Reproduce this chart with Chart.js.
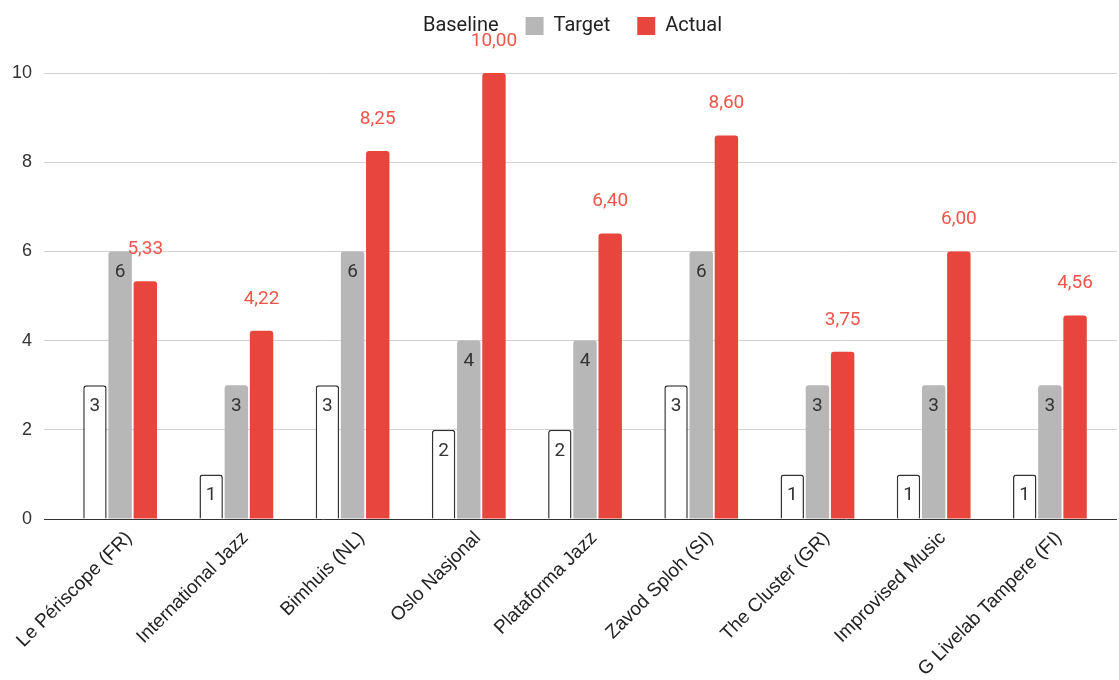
<!DOCTYPE html>
<html>
<head>
<meta charset="utf-8">
<script src="https://cdn.jsdelivr.net/npm/chart.js@4.4.0/dist/chart.umd.min.js"></script>
<style>
html, body { margin: 0; padding: 0; background: #fff; }
#wrap { width: 1119px; height: 680px; }
</style>
</head>
<body>
<div id="wrap"><canvas id="chart-venues"></canvas></div>
<script>
var venues = ["Le Périscope (FR)", "International Jazz", "Bimhuis (NL)", "Oslo Nasjonal",
              "Plataforma Jazz", "Zavod Sploh (SI)", "The Cluster (GR)", "Improvised Music",
              "G Livelab Tampere (FI)"];
var baseline = [3, 1, 3, 2, 2, 3, 1, 1, 1];
var target   = [6, 3, 6, 4, 4, 6, 3, 3, 3];
var actual   = [5.33, 4.22, 8.25, 10.00, 6.40, 8.60, 3.75, 6.00, 4.56];
var yMin = 0, yMax = 10, yStep = 2;

var axisFont = "'Liberation Sans', Arial, sans-serif";
var labelFont = "Roboto, 'Liberation Sans', sans-serif";

function gridColor(ctx) {
  return ctx.tick && ctx.tick.value === 0 ? '#333333' : '#d3d3d3';
}

// numbers on the bars: inside the top for baseline/target, above for actual
var valueLabels = {
  id: 'valueLabels',
  afterDatasetsDraw: function(chart) {
    var ctx = chart.ctx;
    chart.data.datasets.forEach(function(ds, i) {
      var meta = chart.getDatasetMeta(i);
      meta.data.forEach(function(bar, j) {
        var v = ds.data[j];
        ctx.save();
        ctx.textAlign = 'center';
        ctx.textBaseline = 'middle';
        ctx.font = '19px ' + labelFont;
        if (i == 2) {
          ctx.fillStyle = '#f0554a';
          ctx.fillText(v.toFixed(2).replace('.', ','), bar.x, bar.y - 32);
        } else {
          ctx.fillStyle = '#333333';
          ctx.fillText(String(v), bar.x, bar.y + 21);
        }
        ctx.restore();
      });
    });
  }
};

// leave more room under the legend
var legendGap = {
  id: 'legendGap',
  beforeInit: function(chart) {
    var fit = chart.legend.fit;
    chart.legend.fit = function() {
      fit.call(this);
      this.height += 27;
    };
  }
};

var chart;
function initChart() {
  var ctx = document.getElementById("chart-venues").getContext("2d");
  chart = new Chart(ctx, {
    type: "bar",
    data: {
      labels: venues,
      datasets: [{
        label: "Baseline",
        data: baseline,
        backgroundColor: '#ffffff',
        borderColor: '#333333',
        borderWidth: 1.5,
        borderRadius: { topLeft: 3, topRight: 3 },
        borderSkipped: 'bottom'
      }, {
        label: "Target",
        data: target,
        backgroundColor: '#b7b7b7',
        borderRadius: { topLeft: 3, topRight: 3 },
        borderSkipped: 'bottom'
      }, {
        label: "Actual",
        data: actual,
        backgroundColor: '#e8453c',
        borderRadius: { topLeft: 3, topRight: 3 },
        borderSkipped: 'bottom'
      }]
    },
    options: {
      responsive: true,
      maintainAspectRatio: false,
      animation: false,
      barPercentage: 0.93,
      categoryPercentage: 0.65,
      layout: { padding: { left: 0, right: 2, top: -11, bottom: 0 } },
      plugins: {
        tooltip: { enabled: false },
        legend: {
          position: 'top',
          labels: {
            boxWidth: 18,
            boxHeight: 18,
            padding: 27,
            color: '#222222',
            font: { family: labelFont, size: 20 },
            generateLabels: function(c) {
              var items = Chart.defaults.plugins.legend.labels.generateLabels(c);
              items[0].fillStyle = 'rgba(0,0,0,0)';
              items[0].strokeStyle = 'rgba(0,0,0,0)';
              items[0].lineWidth = 0;
              return items;
            }
          }
        }
      },
      scales: {
        x: {
          grid: { display: false },
          border: { display: false },
          afterFit: function(scale) { scale.height = 161; },
          ticks: {
            autoSkip: false,
            minRotation: 45,
            maxRotation: 45,
            labelOffset: 9,
            padding: 0,
            color: '#222222',
            font: { family: axisFont, size: 19 }
          }
        },
        y: {
          min: yMin,
          max: yMax,
          border: { display: false },
          grid: { color: gridColor, tickLength: 18 },
          ticks: {
            stepSize: yStep,
            padding: 12,
            color: '#333333',
            font: { family: axisFont, size: 18 }
          }
        },
        yRight: {
          position: 'right',
          min: yMin,
          max: yMax,
          border: { display: false },
          grid: { color: gridColor, tickLength: 9, drawOnChartArea: false },
          ticks: { stepSize: yStep, display: false }
        }
      }
    },
    plugins: [valueLabels, legendGap]
  });
}

window.addEventListener('load', initChart);
</script>
</body>
</html>
